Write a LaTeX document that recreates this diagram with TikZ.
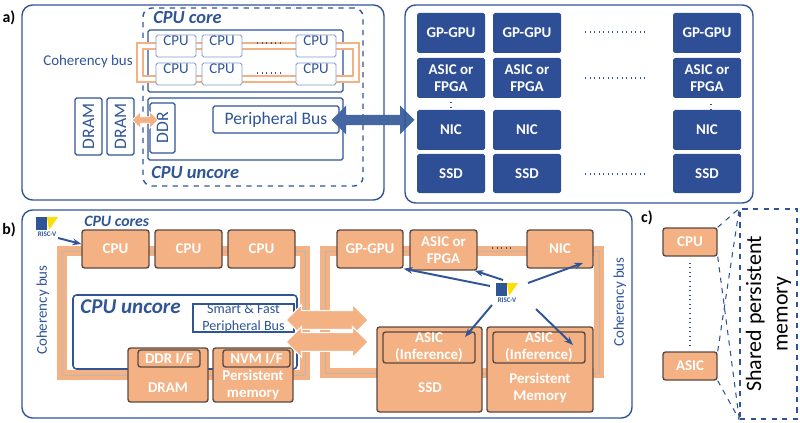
\documentclass[tikz,border=0pt]{standalone}
\usepackage{fontspec}
\setmainfont{Carlito}
\usetikzlibrary{fit,shapes.arrows,arrows.meta,positioning}
\definecolor{bblue}{HTML}{2F5597}
\definecolor{tileblue}{HTML}{2E4E96}
\definecolor{peach}{HTML}{F4B183}
\definecolor{peachd}{HTML}{5A4A44}
\begin{document}
\begin{tikzpicture}[x=0.02cm,y=-0.02cm,inner sep=0pt,
  frame/.style={draw=bblue,line width=0.8pt,rounded corners=6pt},
  thin box/.style={draw=bblue,line width=0.7pt,rounded corners=1pt,fill=white},
  cpu/.style={draw=bblue!60,fill=white,line width=0.5pt,rounded corners=1pt,font=\fontsize{8.5}{9}\selectfont,text=bblue},
  tile/.style={fill=tileblue,rounded corners=1pt,text=white,font=\bfseries\fontsize{8.5}{9.5}\selectfont,align=center},
  obox/.style={fill=peach,draw=peachd,line width=0.8pt,rounded corners=1.5pt,text=white,font=\bfseries\fontsize{8.5}{9.5}\selectfont,align=center},
  lbl/.style={text=bblue,font=\fontsize{8.5}{9}\selectfont},
  ttl/.style={text=bblue,font=\bfseries\itshape\fontsize{10.5}{11}\selectfont,anchor=west},
  bus/.style={draw=peach,line width=5pt},
  busin/.style={draw=white,line width=2.2pt},
  ptr/.style={-{Stealth[length=5pt]},draw=bblue,line width=1.1pt},
  dotl/.style={draw=bblue,dotted,line width=0.6pt}]
\useasboundingbox (0,0) rectangle (800,422);
\tikzset{
  riscv/.pic={\fill[bblue] (-11,-9) rectangle (0,4);
    \fill[yellow!80!orange] (0,-9) -- (11,-9) -- (2,4) -- cycle;
    \node[font=\bfseries\fontsize{4}{4}\selectfont,text=bblue] at (0,8) {RISC-V};}}

% ---------------- a)
\node[font=\bfseries\fontsize{9}{9}\selectfont] (la) at (9,18) {a)};
\node[frame,fit={(22,5)(384,200)}] (pa) {};
\node[draw=bblue,dashed,line width=0.8pt,rounded corners=5pt,fit={(143,8)(363,186)}] (core) {};
\node[ttl] at (153,18) {CPU core};
\node[ttl] at (151,173) {CPU uncore};
\node[thin box,fit={(148,30)(343,92)}] (corein) {};
\draw[bus] (140,46) rectangle (356,79);
\draw[busin] (140,46) rectangle (356,79);
\foreach \name/\xa/\ya in {c1/156/35, c2/202/35, c3/296/35, c4/156/63, c5/202/63, c6/296/63}
  \node[cpu,fit={(\xa,\ya)(\xa+40,\ya+22)}] (\name) {CPU};
\draw[dotl] (257,43) -- (280,43);
\draw[dotl] (257,73) -- (280,73);
\node[lbl] at (88,62) {Coherency bus};
\node[thin box,fit={(148,98)(343,160)}] (uncore) {};
\node[thin box,fit={(150,103)(175,153)}] (ddr) {};
\node[lbl,rotate=90,font=\fontsize{10}{10}\selectfont] at (ddr) {DDR};
\node[thin box,fit={(213,106)(339,133)}] (pbus) {};
\node[lbl,font=\fontsize{10}{10}\selectfont] at (pbus) {Peripheral Bus};
\foreach \name/\xa in {d1/75, d2/107}{
  \node[thin box,fit={(\xa,98)(\xa+27,155)}] (\name) {};
  \node[lbl,rotate=90,font=\fontsize{10}{10}\selectfont] at (\name) {DRAM};}
\node[double arrow,fill=peach,draw=white,line width=0.4pt,minimum height=0.52cm,minimum width=0.34cm,double arrow head extend=2pt,inner sep=1pt] at (145,120) {};
\node[double arrow,fill=bblue!90,minimum height=1.66cm,minimum width=0.58cm,double arrow head extend=5pt,inner sep=2.5pt] at (373,120) {};

\node[frame,fit={(405,5)(753,203)}] (pa2) {};
\foreach \col/\xa in {1/417, 2/493, 3/673}{
  \node[tile,fit={(\xa,13)(\xa+68,53)}] (gpu\col) {};
  \node[tile] at (gpu\col) {GP-GPU};
  \node[tile,fit={(\xa,58)(\xa+68,98)}] (fpga\col) {};
  \node[tile] at (fpga\col) {ASIC or\\FPGA};
  \node[tile,fit={(\xa,110)(\xa+68,150)}] (nic\col) {};
  \node[tile] at (nic\col) {NIC};
  \node[tile,fit={(\xa,154)(\xa+68,193)}] (ssd\col) {};
  \node[tile] at (ssd\col) {SSD};}
\foreach \y in {32,78,174} \draw[dotl] (585,\y) -- (647,\y);
\draw[dotl] (451,102) -- (451,107);
\draw[dotl] (711,104) -- (711,109);

% ---------------- b)
\node[font=\bfseries\fontsize{9}{9}\selectfont] (lb) at (9,230) {b)};
\node[frame,fit={(22,210)(632,418)}] (pb) {};
\pic at (47,226) {riscv};
\coordinate (rv1) at (58,238);
\node[ttl,font=\bfseries\itshape\fontsize{9}{9}\selectfont] at (84,221) {CPU cores};
% coherency rings
\draw[peach,line width=5.8pt] (62,251) rectangle (305,375);
\draw[peachd!40,line width=0.4pt] (62,251) rectangle (305,375);
\draw[peach,line width=5.8pt] (325,251) rectangle (599,373);
\draw[peachd!40,line width=0.4pt] (325,251) rectangle (599,373);
\node[lbl,rotate=90] at (43,310) {Coherency bus};
\node[lbl,rotate=90] at (620,302) {Coherency bus};
\foreach \name/\xa in {b1/82, b2/155, b3/228}
  \node[obox,fit={(\xa,230)(\xa+67,268)}] (\name) {};
\foreach \name in {b1,b2,b3} \node[obox,draw=none,fill=none] at (\name) {CPU};
\node[thin box,line width=0.9pt,rounded corners=2pt,fit={(73,295)(297,369)}] (bunc) {};
\node[ttl,font=\bfseries\itshape\fontsize{12}{12}\selectfont] at (80,307) {CPU uncore};
\node[thin box,line width=0.6pt,rounded corners=0pt,fit={(193,304)(294,332)}] (sfb) {};
\node[lbl,align=center,font=\fontsize{8}{9.5}\selectfont] at (sfb) {Smart \& Fast\\Peripheral Bus};
\node[obox,fit={(128,348)(208,402)}] (dram) {};
\node[obox,fit={(138,350)(200,367)}] (ddrif) {};
\node[obox,draw=none,fill=none] at (ddrif) {DDR I/F};
\node[obox,draw=none,fill=none] at (168,388) {DRAM};
\node[obox,fit={(213,348)(293,402)}] (pmem) {};
\node[obox,fit={(223,350)(290,367)}] (nvmif) {};
\node[obox,draw=none,fill=none] at (nvmif) {NVM I/F};
\node[obox,draw=none,fill=none] at (253,385) {Persistent\\memory};
\foreach \y in {320,342}
  \node[double arrow,fill=peach,draw=white,line width=0.6pt,minimum height=1.64cm,minimum width=0.62cm,double arrow head extend=3.5pt,inner sep=5pt] at (327,\y) {};
\node[obox,fit={(337,230)(403,268)}] (gp) {};
\node[obox,draw=none,fill=none] at (gp) {GP-GPU};
\node[obox,fit={(410,230)(477,270)}] (af) {};
\node[obox,draw=none,fill=none] at (af) {ASIC or\\FPGA};
\node[obox,fit={(527,230)(593,268)}] (nic) {};
\node[obox,draw=none,fill=none] at (nic) {NIC};
\draw[dotl,draw=peachd] (492,248) -- (512,248);
\node[obox,fit={(377,327)(482,412)}] (ssd) {};
\node[obox,fit={(383,332)(475,363)}] (ai1) {};
\node[obox,draw=none,fill=none] at (ai1) {ASIC\\(Inference)};
\node[obox,draw=none,fill=none] at (430,388) {SSD};
\node[obox,fit={(487,327)(593,412)}] (pm) {};
\node[obox,fit={(493,332)(585,363)}] (ai2) {};
\node[obox,draw=none,fill=none] at (ai2) {ASIC\\(Inference)};
\node[obox,draw=none,fill=none] at (540,388) {Persistent\\Memory};
\pic at (507,292) {riscv};
\coordinate (rv) at (507,292);
\draw[ptr] (rv1) -- (b1.west |- 0,244);
\draw[ptr] (490,286) -- (gp.south east);
\draw[ptr] (503,280) -- ([xshift=-0.06cm]af.south east);
\draw[ptr] (528,283) -- (583,263);
\draw[ptr] (492,305) -- (465,337);
\draw[ptr] (536,309) -- (573,345);

% ---------------- c)
\node[font=\bfseries\fontsize{9}{9}\selectfont] (lc) at (647,218) {c)};
\node[obox,fit={(663,228)(717,256)}] (ccpu) {};
\node[obox,draw=none,fill=none] at (ccpu) {CPU};
\node[obox,fit={(663,352)(717,380)}] (casic) {};
\node[obox,draw=none,fill=none] at (casic) {ASIC};
\draw[dotl] (ccpu.south) ++(0,6) -- ([yshift=0.12cm]casic.north);
\node[draw=bblue,dashed,line width=0.8pt,fit={(740,209)(797,419)}] (spm) {};
\node[rotate=90,align=center,font=\fontsize{12.5}{15}\selectfont] at (spm) {Shared persistent\\memory};
\foreach \b in {ccpu,casic}{
  \draw[bblue,dashed,line width=0.6pt] (\b.north east) -- (spm.north west);
  \draw[bblue,dashed,line width=0.6pt] (\b.south east) -- (spm.south west);}
\end{tikzpicture}
\end{document}
